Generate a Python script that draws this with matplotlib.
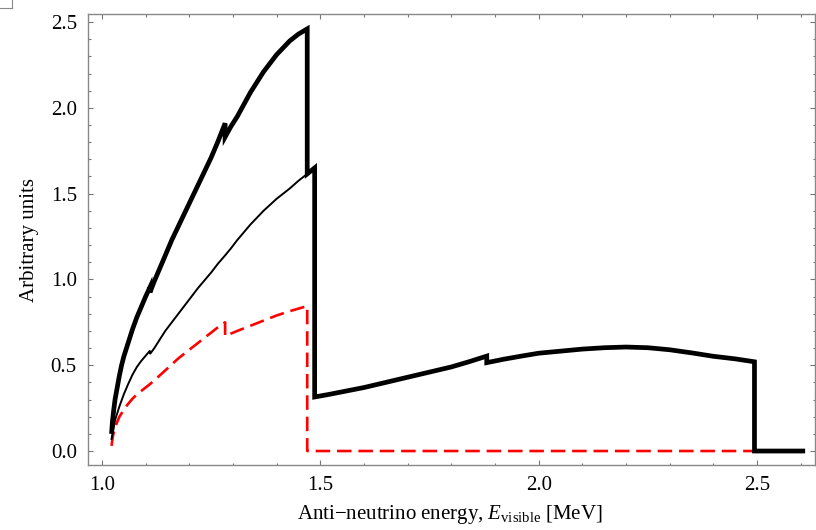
import matplotlib
matplotlib.use("Agg")
import matplotlib.pyplot as plt
from matplotlib.lines import Line2D
from matplotlib.ticker import MultipleLocator, FormatStrFormatter

plt.rcParams['font.family'] = ['Liberation Serif', 'DejaVu Serif']
plt.rcParams['mathtext.fontset'] = 'custom'
plt.rcParams['mathtext.rm'] = 'Liberation Serif'
plt.rcParams['mathtext.it'] = 'Liberation Serif:italic'

# total spectrum (thick black)
E_total = [1.022, 1.024, 1.027, 1.03, 1.035, 1.04, 1.045, 1.05, 1.055, 1.06, 1.07, 1.08,
           1.09, 1.10, 1.11, 1.11, 1.12, 1.13, 1.145, 1.16, 1.175, 1.19, 1.205, 1.22, 1.235,
           1.25, 1.265, 1.282, 1.282, 1.295, 1.31, 1.325, 1.34, 1.355, 1.37, 1.385, 1.40,
           1.415, 1.43, 1.45, 1.47, 1.47, 1.487, 1.487,
           1.52, 1.55, 1.60, 1.65, 1.70, 1.75, 1.80, 1.84, 1.881, 1.881, 1.92, 1.96, 2.00,
           2.05, 2.10, 2.15, 2.20, 2.25, 2.30, 2.35, 2.40, 2.45, 2.494, 2.494, 2.61]
v_total = [0.10, 0.17, 0.24, 0.30, 0.37, 0.44, 0.50, 0.55, 0.59, 0.63, 0.71, 0.78,
           0.84, 0.90, 0.955, 0.925, 0.99, 1.05, 1.14, 1.23, 1.31, 1.39, 1.47, 1.55, 1.63,
           1.71, 1.80, 1.91, 1.83, 1.89, 1.95, 2.02, 2.09, 2.15, 2.21, 2.26, 2.31,
           2.35, 2.39, 2.43, 2.46, 1.615, 1.65, 0.315,
           0.33, 0.345, 0.37, 0.40, 0.43, 0.46, 0.49, 0.52, 0.553, 0.515, 0.535, 0.553, 0.57,
           0.582, 0.594, 0.602, 0.606, 0.602, 0.59, 0.572, 0.552, 0.537, 0.52, 0.0, 0.0]

# first component (thin black)
E_thin = [1.022, 1.024, 1.027, 1.03, 1.035, 1.04, 1.05, 1.06, 1.07, 1.08, 1.09, 1.10,
          1.11, 1.11, 1.12, 1.13, 1.145, 1.16, 1.175, 1.19, 1.205, 1.22, 1.235, 1.25, 1.265,
          1.282, 1.295, 1.31, 1.325, 1.34, 1.355, 1.37, 1.385, 1.40, 1.415, 1.43, 1.45,
          1.47, 1.487]
v_thin = [0.07, 0.10, 0.14, 0.18, 0.22, 0.26, 0.33, 0.39, 0.445, 0.49, 0.525, 0.555,
          0.585, 0.565, 0.60, 0.64, 0.70, 0.75, 0.80, 0.85, 0.90, 0.95, 0.995, 1.04, 1.09,
          1.14, 1.18, 1.23, 1.275, 1.32, 1.36, 1.40, 1.435, 1.47, 1.50, 1.53, 1.575,
          1.615, 1.65]

# second component (red dashed)
E_red = [1.022, 1.024, 1.027, 1.03, 1.035, 1.04, 1.05, 1.06, 1.07, 1.08, 1.09, 1.10, 1.11,
         1.13, 1.145, 1.16, 1.175, 1.19, 1.205, 1.22, 1.235, 1.25, 1.265, 1.282, 1.282,
         1.31, 1.34, 1.37, 1.40, 1.43, 1.45, 1.47, 1.47, 2.49]
v_red = [0.03, 0.07, 0.11, 0.14, 0.17, 0.20, 0.24, 0.275, 0.305, 0.33, 0.35, 0.37, 0.39,
         0.435, 0.47, 0.505, 0.54, 0.57, 0.60, 0.63, 0.66, 0.69, 0.72, 0.75, 0.67,
         0.70, 0.73, 0.76, 0.79, 0.815, 0.83, 0.845, 0.0, 0.0]

fig = plt.figure(figsize=(8.16, 5.30), dpi=100)
ax = fig.add_axes([0.1078, 0.1226, 0.8912, 0.8504])

ax.plot(E_red, v_red, color='#ff0000', lw=1.9, dashes=(5.5, 2.6), solid_joinstyle='miter')
ax.plot(E_thin, v_thin, color='black', lw=1.4, solid_joinstyle='miter')
ax.plot(E_total, v_total, color='black', lw=3.4, solid_joinstyle='miter', solid_capstyle='butt')

ax.set_xlim(0.968, 2.633)
ax.set_ylim(-0.0816, 2.545)
ax.xaxis.set_major_locator(MultipleLocator(0.5))
ax.xaxis.set_minor_locator(MultipleLocator(0.1))
ax.yaxis.set_major_locator(MultipleLocator(0.5))
ax.yaxis.set_minor_locator(MultipleLocator(0.1))
ax.xaxis.set_major_formatter(FormatStrFormatter('%.1f'))
ax.yaxis.set_major_formatter(FormatStrFormatter('%.1f'))

for s in ax.spines.values():
    s.set_color('#888888')
    s.set_linewidth(1.0)
ax.tick_params(which='both', direction='in', top=True, right=True, color='#777777',
               labelsize=15, width=0.8)
ax.tick_params(which='major', length=3.5, pad=8)
ax.tick_params(which='minor', length=1.8)

ax.set_xlabel('Anti\u2212neutrino energy, $E_{\\mathrm{visible}}$ [MeV]', fontsize=15)
ax.set_ylabel('Arbitrary units', fontsize=15)
ax.xaxis.set_label_coords(0.497, -0.085)
ax.yaxis.set_label_coords(-0.068, 0.5)

# small box in the top left corner
fig.add_artist(Line2D([0, 12 / 816], [1 - 7.5 / 530, 1 - 7.5 / 530], color='#888888', lw=0.8))
fig.add_artist(Line2D([12 / 816, 12 / 816], [1, 1 - 7.5 / 530], color='#888888', lw=0.8))

fig.savefig('out.png', dpi=100)
